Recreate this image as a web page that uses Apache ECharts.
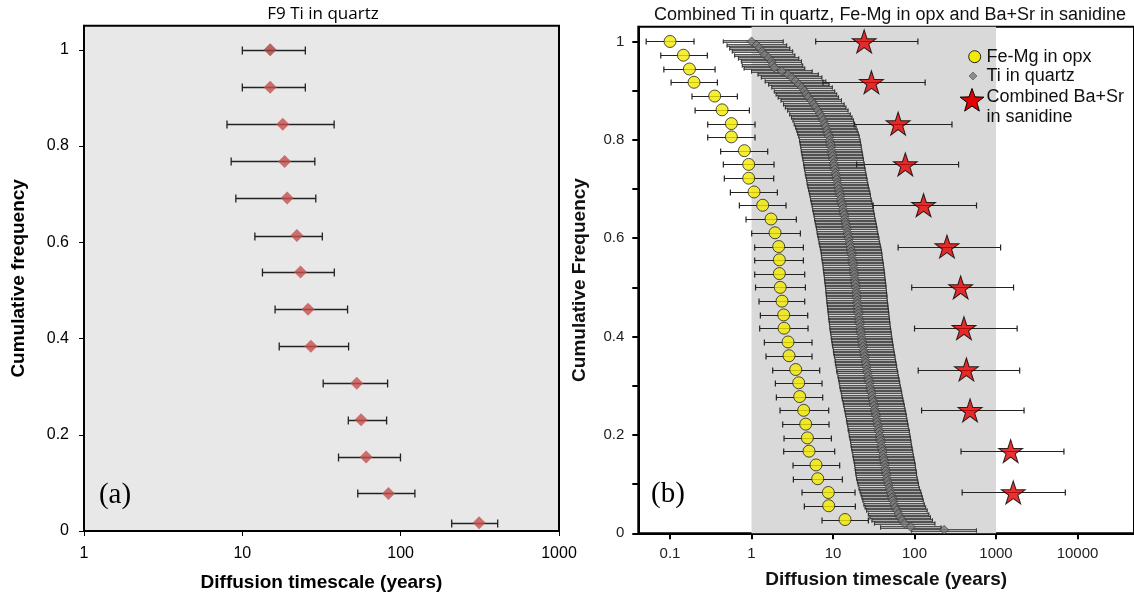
<!DOCTYPE html>
<html>
<head>
<meta charset="utf-8">
<script src="https://cdn.jsdelivr.net/npm/echarts@6/dist/echarts.min.js"></script>
<style>
  html, body { margin: 0; padding: 0; background: #fff; }
  #chart { width: 1134px; height: 597px; }
</style>
</head>
<body>
<div id="chart"></div>
<script>
// ---------- Panel (a): F9, Ti in quartz ----------
const f9Time = [15.0, 15.0, 18.0, 18.5, 19.2, 22.1, 23.3, 26.0, 27.1, 52.8, 56.2, 60.5, 83.7, 313];
const f9Low  = [10.0, 10.0, 8.0, 8.5, 9.1, 12.0, 13.4, 16.1, 17.1, 32.4, 46.7, 40.5, 53.6, 210];
const f9High = [25.0, 25.0, 38.0, 28.7, 29.1, 32.0, 38.1, 46.2, 46.9, 82.7, 81.5, 99.7, 123, 410];
const f9Freq = [1.000, 0.922, 0.845, 0.768, 0.692, 0.614, 0.538, 0.461, 0.384, 0.307, 0.231, 0.154, 0.078, 0.017];

// ---------- Panel (b): Fe-Mg in opx ----------
const opxTime = [0.100, 0.146, 0.173, 0.197, 0.353, 0.435, 0.566, 0.566, 0.817, 0.923,
                 0.923, 1.073, 1.371, 1.735, 1.942, 2.154, 2.195, 2.195, 2.25, 2.367,
                 2.481, 2.505, 2.805, 2.884, 3.483, 3.791, 3.899, 4.366, 4.619, 4.842,
                 5.077, 6.185, 6.484, 8.764, 8.847, 14.04];
const opxLow  = [0.051, 0.077, 0.084, 0.103, 0.186, 0.203, 0.290, 0.290, 0.418, 0.451,
                 0.464, 0.550, 0.709, 0.856, 1.005, 1.094, 1.094, 1.094, 1.12, 1.236,
                 1.284, 1.259, 1.437, 1.506, 1.818, 1.961, 2.017, 2.237, 2.412, 2.505,
                 2.481, 3.230, 3.261, 4.165, 4.449, 7.328];
const opxHigh = [0.197, 0.287, 0.357, 0.381, 0.670, 0.941, 1.104, 1.104, 1.579, 1.888,
                 1.871, 2.075, 2.650, 3.548, 3.973, 4.325, 4.325, 4.491, 4.58, 4.491,
                 4.889, 4.935, 5.525, 5.525, 6.862, 7.328, 7.468, 8.847, 8.93, 9.54,
                 10.48, 12.07, 13.02, 18.62, 18.79, 27.14];
const opxFreq = [1.000, 0.972, 0.944, 0.917, 0.889, 0.861, 0.833, 0.806, 0.778, 0.750,
                 0.722, 0.694, 0.667, 0.639, 0.611, 0.583, 0.556, 0.528, 0.500, 0.472,
                 0.444, 0.417, 0.389, 0.361, 0.333, 0.306, 0.278, 0.250, 0.222, 0.194,
                 0.167, 0.139, 0.111, 0.083, 0.056, 0.028];

// ---------- Panel (b): Ti in quartz ----------
const qtzTime = [1.00, 1.15, 1.25, 1.35, 1.45, 1.62, 1.75, 1.80, 1.90, 2.35,
                 2.80, 3.10, 3.45, 3.80, 4.15, 4.45, 4.70, 4.98, 5.40, 5.80,
                 6.10, 6.50, 6.90, 7.25, 7.55, 7.85, 8.15, 8.40, 8.65, 8.90,
                 9.10, 9.25, 9.40, 9.55, 9.70, 9.85, 10.0, 10.2, 10.35, 10.5,
                 10.7, 10.9, 11.1, 11.3, 11.5, 11.75, 12.0, 12.2, 12.45, 12.7,
                 12.95, 13.2, 13.45, 13.7, 13.95, 14.2, 14.45, 14.7, 14.95, 15.2,
                 15.5, 15.8, 16.1, 16.4, 16.7, 16.9, 17.1, 17.35, 17.6, 17.8,
                 18.0, 18.2, 18.4, 18.6, 18.8, 19.0, 19.2, 19.35, 19.5, 19.7,
                 19.9, 20.1, 20.3, 20.5, 20.7, 20.95, 21.2, 21.45, 21.7, 22.0,
                 22.3, 22.6, 22.9, 23.2, 23.6, 24.0, 24.4, 24.8, 25.2, 25.6,
                 26.0, 26.4, 26.9, 27.4, 27.9, 28.4, 28.9, 29.5, 30.0, 30.6,
                 31.2, 31.8, 32.4, 33.0, 33.6, 34.2, 34.8, 35.4, 36.0, 36.6,
                 37.2, 37.8, 38.4, 39.0, 39.6, 40.3, 41.0, 41.7, 42.4, 43.1,
                 43.7, 44.3, 44.9, 45.6, 46.6, 47.6, 48.8, 50.3, 51.6, 53.0,
                 54.4, 56.0, 58.0, 60.5, 63.5, 66.5, 70.5, 75.5, 90.0, 231];
const qtzLow  = [0.45, 0.50, 0.54, 0.58, 0.62, 0.69, 0.75, 0.77, 0.81, 1.00,
                 1.20, 1.32, 1.47, 1.62, 1.77, 1.90, 2.00, 2.12, 2.30, 2.47,
                 2.60, 2.77, 2.94, 3.09, 3.22, 3.34, 3.47, 3.58, 3.68, 3.79,
                 3.88, 3.94, 4.00, 4.07, 4.13, 4.20, 4.26, 4.35, 4.41, 4.47,
                 4.56, 4.64, 4.73, 4.81, 4.90, 5.00, 5.11, 5.20, 5.30, 5.41,
                 5.52, 5.62, 5.73, 5.84, 5.94, 6.05, 6.16, 6.26, 6.37, 6.48,
                 6.60, 6.73, 6.86, 6.99, 7.11, 7.20, 7.28, 7.39, 7.50, 7.58,
                 7.67, 7.75, 7.84, 7.92, 8.01, 8.09, 8.18, 8.24, 8.31, 8.39,
                 8.48, 8.56, 8.65, 8.73, 8.82, 8.92, 9.03, 9.14, 9.24, 9.37,
                 9.50, 9.63, 9.76, 9.88, 10.1, 10.2, 10.4, 10.6, 10.7, 10.9,
                 11.1, 11.2, 11.5, 11.7, 11.9, 12.1, 12.3, 12.6, 12.8, 13.0,
                 13.3, 13.5, 13.8, 14.1, 14.3, 14.6, 14.8, 15.1, 15.3, 15.6,
                 15.8, 16.1, 16.4, 16.6, 16.9, 17.2, 17.5, 17.8, 18.1, 18.4,
                 18.6, 18.9, 19.1, 19.4, 19.9, 20.3, 20.8, 21.4, 22.0, 22.6,
                 23.2, 23.9, 24.7, 25.8, 27.1, 28.3, 30.0, 32.2, 38.3, 92.0];
const qtzHigh = [2.45, 2.70, 2.95, 3.20, 3.40, 3.80, 4.10, 4.25, 4.50, 5.55,
                 6.60, 7.30, 8.15, 8.95, 9.80, 10.5, 11.1, 11.7, 12.7, 13.7,
                 14.4, 15.3, 16.3, 17.1, 17.8, 18.5, 19.2, 19.8, 20.4, 21.0,
                 21.5, 21.8, 22.2, 22.5, 22.9, 23.2, 23.6, 24.1, 24.4, 24.8,
                 25.3, 25.7, 26.2, 26.7, 27.1, 27.7, 28.3, 28.8, 29.4, 30.0,
                 30.6, 31.2, 31.7, 32.3, 32.9, 33.5, 34.1, 34.7, 35.3, 35.9,
                 36.6, 37.3, 38.0, 38.7, 39.4, 39.9, 40.4, 40.9, 41.5, 42.0,
                 42.5, 43.0, 43.4, 43.9, 44.4, 44.8, 45.3, 45.7, 46.0, 46.5,
                 47.0, 47.4, 47.9, 48.4, 48.9, 49.4, 50.0, 50.6, 51.2, 51.9,
                 52.6, 53.3, 54.0, 54.8, 55.7, 56.6, 57.6, 58.5, 59.5, 60.4,
                 61.4, 62.3, 63.5, 64.7, 65.8, 67.0, 68.2, 69.6, 70.8, 72.2,
                 73.6, 75.0, 76.5, 77.9, 79.3, 80.7, 82.1, 83.5, 85.0, 86.4,
                 87.8, 89.2, 90.6, 92.0, 93.5, 95.1, 96.8, 98.4, 100, 102,
                 103, 105, 106, 108, 110, 112, 115, 119, 122, 125,
                 128, 132, 137, 143, 150, 157, 166, 178, 212, 575];
const qtzFreq = [1.000, 0.993, 0.987, 0.980, 0.973, 0.967, 0.960, 0.953, 0.947, 0.940,
                 0.933, 0.927, 0.920, 0.913, 0.907, 0.900, 0.893, 0.887, 0.880, 0.873,
                 0.867, 0.860, 0.853, 0.847, 0.840, 0.833, 0.827, 0.820, 0.813, 0.807,
                 0.800, 0.793, 0.787, 0.780, 0.773, 0.767, 0.760, 0.753, 0.747, 0.740,
                 0.733, 0.727, 0.720, 0.713, 0.707, 0.700, 0.693, 0.687, 0.680, 0.673,
                 0.667, 0.660, 0.653, 0.647, 0.640, 0.633, 0.627, 0.620, 0.613, 0.607,
                 0.600, 0.593, 0.587, 0.580, 0.573, 0.567, 0.560, 0.553, 0.547, 0.540,
                 0.533, 0.527, 0.520, 0.513, 0.507, 0.500, 0.493, 0.487, 0.480, 0.473,
                 0.467, 0.460, 0.453, 0.447, 0.440, 0.433, 0.427, 0.420, 0.413, 0.407,
                 0.400, 0.393, 0.387, 0.380, 0.373, 0.367, 0.360, 0.353, 0.347, 0.340,
                 0.333, 0.327, 0.320, 0.313, 0.307, 0.300, 0.293, 0.287, 0.280, 0.273,
                 0.267, 0.260, 0.253, 0.247, 0.240, 0.233, 0.227, 0.220, 0.213, 0.207,
                 0.200, 0.193, 0.187, 0.180, 0.173, 0.167, 0.160, 0.153, 0.147, 0.140,
                 0.133, 0.127, 0.120, 0.113, 0.107, 0.100, 0.093, 0.087, 0.080, 0.073,
                 0.067, 0.060, 0.053, 0.047, 0.040, 0.033, 0.027, 0.020, 0.013, 0.007];

// ---------- Panel (b): combined Ba+Sr in sanidine ----------
const sanTime = [24.1, 29.6, 62.9, 77.1, 129, 250, 368, 404, 433, 480, 1511, 1626];
const sanLow  = [6.13, 7.52, 18.2, 19.5, 31.1, 62.9, 92.4, 100, 111, 122, 372, 384];
const sanHigh = [110, 135, 288, 347, 576, 1138, 1640, 1815, 1950, 2207, 6810, 7080];
const sanFreq = [1.000, 0.917, 0.833, 0.750, 0.667, 0.583, 0.500, 0.417, 0.333, 0.250, 0.167, 0.083];

// Shaded timescale window in panel (b), years
const shadeRange = [1, 1000];

// Axis ranges, ticks and labels
const timeRangeA = [1, 1000];
const timeRangeB = [0.0408, 49300];
const timeTicksA = [1, 10, 100, 1000];
const freqTicksA = [0, 0.2, 0.4, 0.6, 0.8, 1];
const timeTicksB = [0.1, 1, 10, 100, 1000, 10000];
const freqLabelsB = [0, 0.2, 0.4, 0.6, 0.8, 1];
const freqTicksB = [0, 0.1, 0.2, 0.3, 0.4, 0.5, 0.6, 0.7, 0.8, 0.9, 1];

const SANS = "'Liberation Sans', Arial, Helvetica, sans-serif";
const SERIF = "'Liberation Serif', 'Times New Roman', serif";
const STAR = 'path://M50,0 L61.2,34.5 L97.6,34.5 L68.2,55.9 L79.4,90.5 L50,69.1 L20.6,90.5 L31.8,55.9 L2.4,34.5 L38.8,34.5 Z';

const pairs = (xs, ys) => xs.map((x, i) => [x, ys[i]]);
const triples = (lo, hi, ys) => lo.map((l, i) => [l, hi[i], ys[i]]);

// Five-pointed star outline for the legend icon
function starPoints(cx, cy, rOut, rIn) {
  const pts = [];
  for (let k = 0; k < 10; k++) {
    const r = k % 2 === 0 ? rOut : rIn;
    const a = -Math.PI / 2 + k * Math.PI / 5;
    pts.push([cx + r * Math.cos(a), cy + r * Math.sin(a)]);
  }
  return pts;
}

// Horizontal error bars with end caps; optional filled band per bar
function errorBars(name, gridIdx, lo, hi, ys, o) {
  return {
    name: name,
    type: 'custom',
    xAxisIndex: gridIdx,
    yAxisIndex: gridIdx,
    z: o.z,
    silent: true,
    data: triples(lo, hi, ys),
    encode: { x: [0, 1], y: 2 },
    renderItem: function (params, api) {
      const a = api.coord([api.value(0), api.value(2)]);
      const b = api.coord([api.value(1), api.value(2)]);
      const y = Math.round(a[1]) + 0.5;
      const st = { stroke: o.color, lineWidth: o.width };
      const kids = [];
      if (o.band) {
        kids.push({ type: 'rect', shape: { x: a[0], y: y - o.band / 2, width: b[0] - a[0], height: o.band },
                    style: { fill: o.fill, stroke: o.color, lineWidth: o.width } });
      } else {
        kids.push({ type: 'line', shape: { x1: a[0], y1: y, x2: b[0], y2: y }, style: st });
      }
      kids.push({ type: 'line', shape: { x1: a[0], y1: y - o.cap, x2: a[0], y2: y + o.cap }, style: st });
      kids.push({ type: 'line', shape: { x1: b[0], y1: y - o.cap, x2: b[0], y2: y + o.cap }, style: st });
      return { type: 'group', children: kids };
    }
  };
}

const chart = echarts.init(document.getElementById('chart'), null, { renderer: 'canvas' });

const tickLabel = (v) => String(v);
const nameStyle = { fontFamily: SANS, fontSize: 19, fontWeight: 'bold', color: '#000' };

chart.setOption({
  animation: false,
  backgroundColor: '#fff',
  grid: [
    { left: 84, top: 25.7, width: 475, height: 506.6, show: true,
      backgroundColor: '#e8e8e8', borderColor: '#000', borderWidth: 2 },
    { left: 638.3, top: 26.7, right: 0, height: 506.6, show: true,
      backgroundColor: '#fff', borderColor: '#000', borderWidth: 2 }
  ],
  xAxis: [
    { gridIndex: 0, type: 'log', logBase: 10, min: timeRangeA[0], max: timeRangeA[1],
      name: 'Diffusion timescale (years)', nameLocation: 'middle', nameGap: 42,
      nameTextStyle: nameStyle,
      axisLine: { show: true, lineStyle: { color: '#000', width: 2 } },
      axisTick: { show: true, inside: false, length: 5, lineStyle: { color: '#000', width: 1 }, customValues: timeTicksA },
      axisLabel: { customValues: timeTicksA, formatter: tickLabel, margin: 15, fontFamily: SANS, fontSize: 16, color: '#000' },
      splitLine: { show: false }, minorTick: { show: false } },
    { gridIndex: 1, type: 'log', logBase: 10, min: timeRangeB[0], max: timeRangeB[1],
      name: 'Diffusion timescale (years)', nameLocation: 'middle', nameGap: 37,
      nameTextStyle: Object.assign({}, nameStyle, { color: '#111' }),
      axisLine: { show: true, lineStyle: { color: '#000', width: 2 } },
      axisTick: { show: true, inside: false, length: 6, lineStyle: { color: '#000', width: 2 }, customValues: timeTicksB },
      axisLabel: { customValues: timeTicksB, formatter: tickLabel, margin: 13, fontFamily: SANS, fontSize: 15, color: '#222' },
      splitLine: { show: false }, minorTick: { show: false } }
  ],
  yAxis: [
    { gridIndex: 0, type: 'value', min: 0, max: 1.05,
      name: 'Cumulative frequency', nameLocation: 'middle', nameGap: 56,
      nameTextStyle: nameStyle,
      axisLine: { show: true, lineStyle: { color: '#000', width: 2 } },
      axisTick: { show: true, inside: false, length: 5, lineStyle: { color: '#000', width: 1 }, customValues: freqTicksA },
      axisLabel: { customValues: freqTicksA, formatter: tickLabel, margin: 15, fontFamily: SANS, fontSize: 16, color: '#000' },
      splitLine: { show: false } },
    { gridIndex: 1, type: 'value', min: 0, max: 1.03,
      name: 'Cumulative Frequency', nameLocation: 'middle', nameGap: 49,
      nameTextStyle: Object.assign({}, nameStyle, { color: '#111' }),
      axisLine: { show: true, lineStyle: { color: '#000', width: 2 } },
      axisTick: { show: true, inside: false, length: 6, lineStyle: { color: '#000', width: 2 }, customValues: freqTicksB },
      axisLabel: { customValues: freqLabelsB, formatter: tickLabel, margin: 14, fontFamily: SANS, fontSize: 15, color: '#222' },
      splitLine: { show: false } }
  ],
  series: [
    // (a) error bars then diamonds
    errorBars('F9 range', 0, f9Low, f9High, f9Freq, { z: 3, color: '#222', width: 1.3, cap: 4 }),
    { name: 'F9 Ti in quartz', type: 'scatter', xAxisIndex: 0, yAxisIndex: 0, z: 4,
      symbol: 'diamond', symbolSize: 13, silent: true,
      data: pairs(f9Time, f9Freq),
      itemStyle: { color: (p) => (p.dataIndex === 0 ? '#a8423f' : '#c4504c') } },

    // (b) shaded window
    { name: 'window', type: 'custom', xAxisIndex: 1, yAxisIndex: 1, z: 1, silent: true,
      data: [shadeRange], encode: { x: [0, 1] },
      renderItem: function (params, api) {
        const cs = params.coordSys;
        const x0 = api.coord([api.value(0), 0])[0];
        const x1 = api.coord([api.value(1), 0])[0];
        return { type: 'rect', shape: { x: x0, y: cs.y, width: x1 - x0, height: cs.height },
                 style: { fill: '#d9d9d9' } };
      } },

    // Ti in quartz: dense error band and diamonds
    errorBars('Ti in quartz range', 1, qtzLow, qtzHigh, qtzFreq,
              { z: 2, color: '#222', width: 0.7, cap: 2.5, band: 2.0, fill: '#a8a8a8' }),
    { name: 'Ti in quartz', type: 'scatter', xAxisIndex: 1, yAxisIndex: 1, z: 3,
      symbol: 'diamond', symbolSize: 9, silent: true,
      data: pairs(qtzTime, qtzFreq),
      itemStyle: { color: '#7a7a7a', borderColor: '#333', borderWidth: 0.8 } },

    // Fe-Mg in opx
    errorBars('Fe-Mg range', 1, opxLow, opxHigh, opxFreq, { z: 4, color: '#222', width: 1.2, cap: 3 }),
    { name: 'Fe-Mg in opx', type: 'scatter', xAxisIndex: 1, yAxisIndex: 1, z: 5,
      symbol: 'circle', symbolSize: 12, silent: true,
      data: pairs(opxTime, opxFreq),
      itemStyle: { color: '#f2ea00', borderColor: '#222', borderWidth: 1 } },

    // Combined Ba+Sr in sanidine
    errorBars('Ba+Sr range', 1, sanLow, sanHigh, sanFreq, { z: 4, color: '#222', width: 1.2, cap: 3 }),
    { name: 'Combined Ba+Sr in sanidine', type: 'scatter', xAxisIndex: 1, yAxisIndex: 1, z: 6,
      symbol: STAR, symbolSize: [24, 23], silent: true,
      data: pairs(sanTime, sanFreq),
      itemStyle: { color: '#e30000', borderColor: '#000', borderWidth: 1 } }
  ],
  graphic: [
    // panel titles
    { type: 'text', x: 323, y: 14, z: 100, style: { text: 'F9 Ti in quartz', font: "17px 'Open Sans', 'Noto Sans', sans-serif",
      fill: '#000', textAlign: 'center', textVerticalAlign: 'middle' } },
    { type: 'text', x: 890, y: 15, z: 100, style: { text: 'Combined Ti in quartz, Fe-Mg in opx and Ba+Sr in sanidine',
      font: '18px ' + SANS, fill: '#111', textAlign: 'center', textVerticalAlign: 'middle' } },
    // panel letters
    { type: 'text', x: 115, y: 495, z: 100, style: { text: '(a)', font: '29px ' + SERIF, fill: '#000', textAlign: 'center', textVerticalAlign: 'middle' } },
    { type: 'text', x: 668, y: 494, z: 100, style: { text: '(b)', font: '29px ' + SERIF, fill: '#000', textAlign: 'center', textVerticalAlign: 'middle' } },
    // legend for panel (b)
    { type: 'circle', z: 100, shape: { cx: 974.7, cy: 56.7, r: 6 }, style: { fill: '#f2ea00', stroke: '#222', lineWidth: 1 } },
    { type: 'text', z: 100, x: 986.5, y: 56.7, style: { text: 'Fe-Mg in opx', font: '18px ' + SANS, fill: '#111', textVerticalAlign: 'middle' } },
    { type: 'polygon', z: 100, shape: { points: [[973, 72], [977, 76], [973, 80], [969, 76]] }, style: { fill: '#8c8c8c', stroke: '#666', lineWidth: 0.8 } },
    { type: 'text', z: 100, x: 986.5, y: 76.5, style: { text: 'Ti in quartz', font: '18px ' + SANS, fill: '#111', textVerticalAlign: 'middle' } },
    { type: 'polygon', z: 100, shape: { points: starPoints(972, 101, 12.5, 5.1) }, style: { fill: '#e30000', stroke: '#000', lineWidth: 1 } },
    { type: 'text', z: 100, x: 986.5, y: 96.7, style: { text: 'Combined Ba+Sr', font: '18px ' + SANS, fill: '#111', textVerticalAlign: 'middle' } },
    { type: 'text', z: 100, x: 986.5, y: 116.7, style: { text: 'in sanidine', font: '18px ' + SANS, fill: '#111', textVerticalAlign: 'middle' } }
  ]
});
</script>
</body>
</html>
